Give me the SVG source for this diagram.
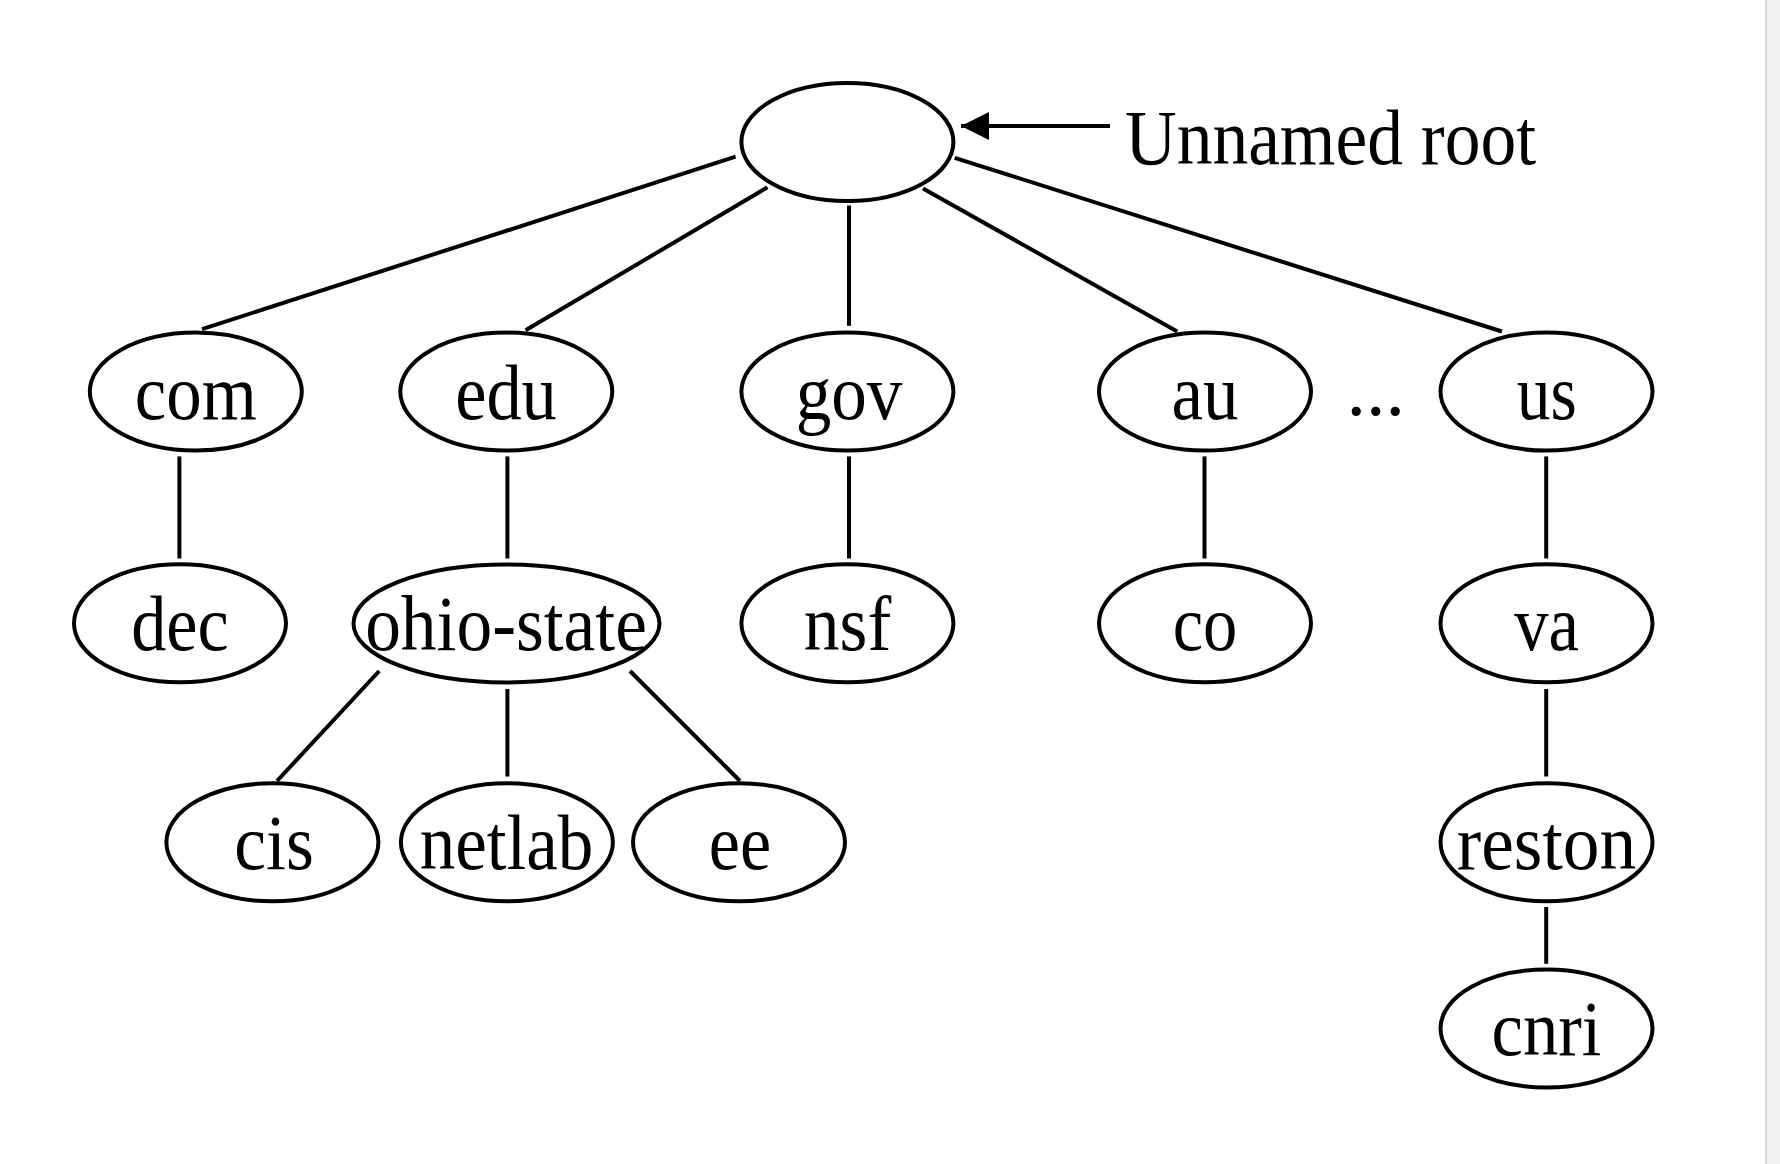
<svg xmlns="http://www.w3.org/2000/svg" width="1780" height="1164" viewBox="0 0 1780 1164">
<style>
.n ellipse{fill:#fff;stroke:#000;stroke-width:4}
.n text{font-family:"Liberation Serif","Times New Roman",serif;font-size:79px;fill:#000;text-anchor:middle}
#edges line{stroke:#000;stroke-width:4;stroke-linecap:butt}
.lbl{font-family:"Liberation Serif","Times New Roman",serif;font-size:78px;fill:#000}
</style>
<defs>
<marker id="ah" markerUnits="userSpaceOnUse" markerWidth="30" markerHeight="28" refX="28" refY="14" orient="auto">
<path d="M0,0 L28,14 L0,28 Z" fill="#000"/>
</marker>
</defs>
<rect x="0" y="0" width="1780" height="1164" fill="#fff"/>
<rect x="1765" y="0" width="15" height="1164" fill="#f1f1f1"/>
<line x1="1766" y1="0" x2="1766" y2="1164" stroke="#d3d6da" stroke-width="2"/>

<g id="edges">
<line x1="735.6" y1="156.7" x2="202" y2="329.2"/>
<line x1="767.4" y1="187.3" x2="525.6" y2="330.3"/>
<line x1="849" y1="205.5" x2="849" y2="325.8"/>
<line x1="923" y1="188.4" x2="1177.2" y2="331.5"/>
<line x1="954.7" y1="157.8" x2="1501.9" y2="331.5"/>
<line x1="179.4" y1="456.4" x2="179.4" y2="558.5"/>
<line x1="507.4" y1="456.4" x2="507.4" y2="558.5"/>
<line x1="849" y1="456.4" x2="849" y2="558.5"/>
<line x1="1204.5" y1="456.4" x2="1204.5" y2="558.5"/>
<line x1="1546.2" y1="456.4" x2="1546.2" y2="558.5"/>
<line x1="379.2" y1="671" x2="277" y2="781"/>
<line x1="507.4" y1="689" x2="507.4" y2="776.5"/>
<line x1="630" y1="671" x2="740" y2="781"/>
<line x1="1546.2" y1="689" x2="1546.2" y2="776.5"/>
<line x1="1546.2" y1="907" x2="1546.2" y2="963.8"/>
<line x1="1110" y1="126" x2="961" y2="126" stroke-width="4.5" marker-end="url(#ah)"/>
</g>

<g id="root" class="n"><ellipse cx="847.4" cy="142" rx="106" ry="59"/></g>
<text id="root-label" class="lbl" x="1125" y="164" textLength="411" lengthAdjust="spacingAndGlyphs">Unnamed root</text>

<g id="com" class="n"><ellipse cx="195.8" cy="391.6" rx="106" ry="59"/><text x="195.8" y="419" textLength="122" lengthAdjust="spacingAndGlyphs">com</text></g>
<g id="edu" class="n"><ellipse cx="506.3" cy="391.6" rx="106" ry="59"/><text x="506" y="419" textLength="101.7" lengthAdjust="spacingAndGlyphs">edu</text></g>
<g id="gov" class="n"><ellipse cx="847.4" cy="391.6" rx="106" ry="59"/><text x="849" y="419" textLength="106.7" lengthAdjust="spacingAndGlyphs">gov</text></g>
<g id="au" class="n"><ellipse cx="1205" cy="391.6" rx="106" ry="59"/><text x="1205" y="419" textLength="67" lengthAdjust="spacingAndGlyphs">au</text></g>
<g id="us" class="n"><ellipse cx="1546.5" cy="391.6" rx="106" ry="59"/><text x="1546.7" y="419" textLength="60" lengthAdjust="spacingAndGlyphs">us</text></g>
<text id="ellipsis" class="lbl" x="1375.8" y="415" text-anchor="middle" font-size="76">...</text>

<g id="dec" class="n"><ellipse cx="180" cy="623.3" rx="106" ry="59"/><text x="180" y="650" textLength="97.6" lengthAdjust="spacingAndGlyphs">dec</text></g>
<g id="ohio-state" class="n"><ellipse cx="506.5" cy="623.5" rx="153" ry="59"/><text x="506" y="650" textLength="281.7" lengthAdjust="spacingAndGlyphs">ohio-state</text></g>
<g id="nsf" class="n"><ellipse cx="847.4" cy="623.3" rx="106" ry="59"/><text x="847.5" y="650" textLength="87.4" lengthAdjust="spacingAndGlyphs">nsf</text></g>
<g id="co" class="n"><ellipse cx="1205" cy="623.3" rx="106" ry="59"/><text x="1205" y="650" textLength="64.7" lengthAdjust="spacingAndGlyphs">co</text></g>
<g id="va" class="n"><ellipse cx="1546.5" cy="623.3" rx="106" ry="59"/><text x="1546.5" y="650" textLength="64.7" lengthAdjust="spacingAndGlyphs">va</text></g>

<g id="cis" class="n"><ellipse cx="272.4" cy="842.3" rx="106" ry="59"/><text x="274" y="869" textLength="79.5" lengthAdjust="spacingAndGlyphs">cis</text></g>
<g id="netlab" class="n"><ellipse cx="506.9" cy="842.3" rx="106" ry="59"/><text x="506.5" y="869" textLength="173.7" lengthAdjust="spacingAndGlyphs">netlab</text></g>
<g id="ee" class="n"><ellipse cx="739" cy="842.3" rx="106" ry="59"/><text x="740" y="869" textLength="62.4" lengthAdjust="spacingAndGlyphs">ee</text></g>
<g id="reston" class="n"><ellipse cx="1546.5" cy="842.3" rx="106" ry="59"/><text x="1546.5" y="869" textLength="179.4" lengthAdjust="spacingAndGlyphs">reston</text></g>

<g id="cnri" class="n"><ellipse cx="1546.5" cy="1028.5" rx="106" ry="59"/><text x="1546.5" y="1055" textLength="110" lengthAdjust="spacingAndGlyphs">cnri</text></g>
</svg>
